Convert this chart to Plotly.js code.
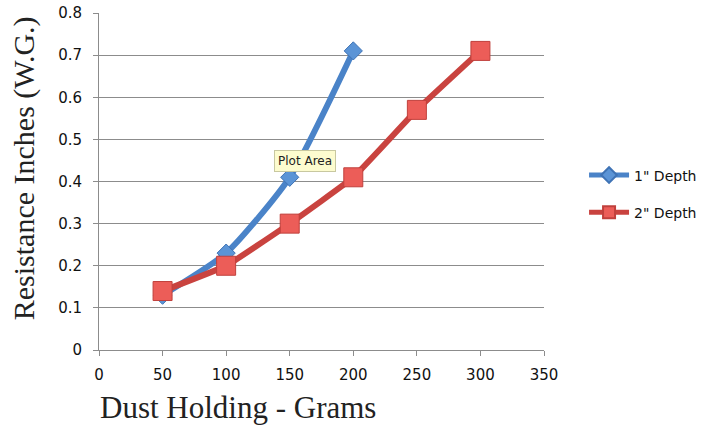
<!DOCTYPE html>
<html>
<head>
<meta charset="utf-8">
<script src="https://cdn.plot.ly/plotly-3.0.1.min.js"></script>
<style>html,body{margin:0;padding:0;background:#fff;}#chart{width:715px;height:427px;}</style>
</head>
<body>
<div id="chart"></div>
<script>
const xDepth1 = [50, 100, 150, 200];
const yDepth1 = [0.13, 0.23, 0.41, 0.71];
const xDepth2 = [50, 100, 150, 200, 250, 300];
const yDepth2 = [0.14, 0.20, 0.30, 0.41, 0.57, 0.71];
const seriesNames = ['1" Depth', '2" Depth'];
const xTicks = [0, 50, 100, 150, 200, 250, 300, 350];
const yTicks = [0, 0.1, 0.2, 0.3, 0.4, 0.5, 0.6, 0.7, 0.8];
const xTitle = 'Dust Holding - Grams';
const yTitle = 'Resistance Inches (W.G.)';

const traces = [
  {
    x: xDepth1, y: yDepth1, name: seriesNames[0], legendgroup: 'g1', type: 'scatter', mode: 'lines+markers',
    line: {color: '#4a83c8', width: 6, shape: 'spline', smoothing: 0.6},
    marker: {symbol: 'diamond', size: 14, color: '#5b94d6', line: {color: '#3f73b5', width: 1}}
  },
  {
    x: xDepth2, y: yDepth2, name: seriesNames[1], legendgroup: 'g2', type: 'scatter', mode: 'lines+markers',
    line: {color: '#c9433f', width: 6, shape: 'spline', smoothing: 0.3},
    marker: {symbol: 'square', size: 19, color: '#ec5d58', line: {color: '#c0403c', width: 1}}
  }
];

const layout = {
  width: 715, height: 427,
  margin: {l: 99, r: 171, t: 13, b: 77},
  paper_bgcolor: '#ffffff', plot_bgcolor: '#ffffff',
  showlegend: true,
  legend: {x: 1.09, y: 0.463, xanchor: 'left', yanchor: 'middle', itemsizing: 'constant',
    font: {family: 'DejaVu Sans', size: 14, color: '#111'}, tracegroupgap: 16, itemwidth: 40,
    bgcolor: 'rgba(0,0,0,0)'},
  xaxis: {
    range: [0, 350], tickvals: xTicks, ticktext: xTicks.map(String),
    showgrid: false, zeroline: false, showline: true, linecolor: '#8c8c8c', linewidth: 1,
    ticks: 'outside', ticklen: 5, tickcolor: '#8c8c8c', ticklabelstandoff: 6,
    tickfont: {family: 'DejaVu Sans', size: 15, color: '#111'}
  },
  yaxis: {
    range: [0, 0.8], tickvals: yTicks, ticktext: yTicks.map(v => v === 0 ? '0' : v.toFixed(1)),
    showgrid: true, gridcolor: '#8c8c8c', gridwidth: 1, zeroline: false,
    showline: true, linecolor: '#8c8c8c', linewidth: 1,
    ticks: 'outside', ticklen: 5, tickcolor: '#8c8c8c', ticklabelstandoff: 8,
    tickfont: {family: 'DejaVu Sans', size: 15, color: '#111'}
  },
  annotations: [
    {x: 0.463, y: 0.561, xref: 'paper', yref: 'paper', text: 'Plot Area', showarrow: false,
     font: {family: 'DejaVu Sans', size: 12, color: '#222'}, bgcolor: '#fdfccf', bordercolor: '#c8c8a0', borderwidth: 1, borderpad: 3},
    {x: -0.003, y: -0.17, xref: 'paper', yref: 'paper', xanchor: 'left', yanchor: 'middle', text: xTitle, showarrow: false,
     font: {family: 'Liberation Serif', size: 31, color: '#222'}},
    {x: -0.168, y: 0.54, xref: 'paper', yref: 'paper', xanchor: 'center', yanchor: 'middle', text: yTitle, showarrow: false, textangle: -90,
     font: {family: 'Liberation Serif', size: 30, color: '#222'}}
  ]
};

Plotly.newPlot('chart', traces, layout, {displayModeBar: false, staticPlot: true});
</script>
</body>
</html>
